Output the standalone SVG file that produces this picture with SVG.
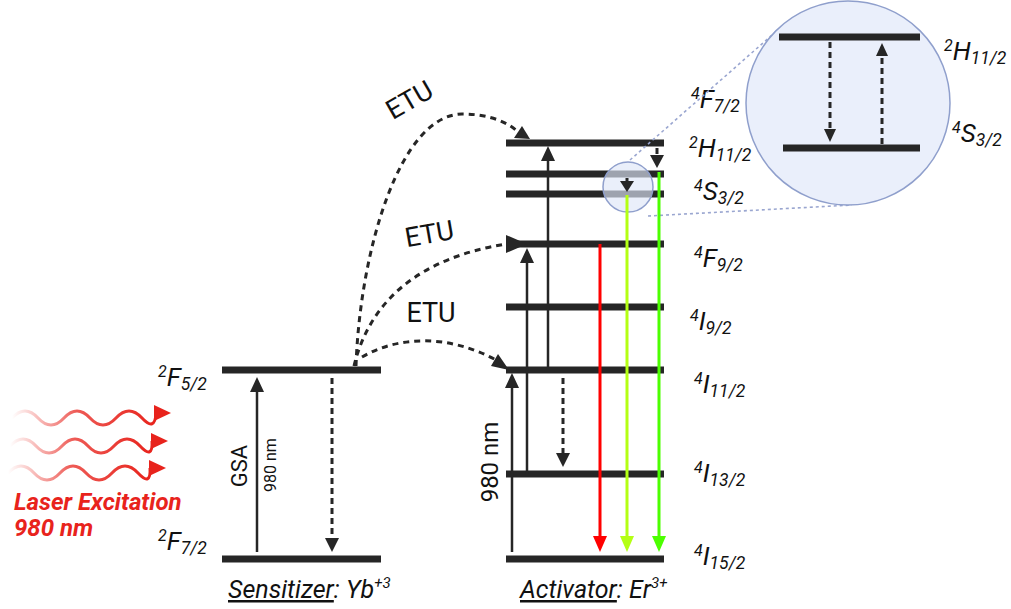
<svg xmlns="http://www.w3.org/2000/svg" width="1011" height="609" viewBox="0 0 1011 609">
  <defs>
    <style>
      .lvl { stroke: #262626; stroke-width: 7; }
      .solid { stroke: #262626; stroke-width: 2.5; fill: none; }
      .dash { stroke: #262626; stroke-width: 3; fill: none; stroke-dasharray: 6 4; }
      .etu { stroke: #262626; stroke-width: 3; fill: none; stroke-dasharray: 6 5; }
      .head { fill: #262626; }
      .lbl { font-family: Roboto, "Liberation Sans", sans-serif; font-style: italic; font-size: 26px; fill: #111; }
      .sub { font-size: 17.5px; }
      .sup { font-size: 16px; }
      .caption { font-family: Roboto, "Liberation Sans", sans-serif; font-style: italic; font-size: 25px; fill: #111; }
      .etuTxt { font-family: Roboto, "Liberation Sans", sans-serif; font-size: 27px; fill: #111; }
      .laserTxt { font-family: Roboto, "Liberation Sans", sans-serif; font-weight: bold; font-style: italic; font-size: 24px; fill: #e8231c; }
      .zoomLink { stroke: #9aa6d0; stroke-width: 1.6; stroke-dasharray: 3 3; fill: none; }
    </style>
    <linearGradient id="beam" x1="0" y1="0" x2="1" y2="0">
      <stop offset="0" stop-color="#e8231c" stop-opacity="0"/>
      <stop offset="0.45" stop-color="#e8231c" stop-opacity="0.75"/>
      <stop offset="1" stop-color="#e8231c"/>
    </linearGradient>
  </defs>

  <rect width="1011" height="609" fill="#ffffff"/>

  <!-- Laser excitation waves -->
  <g id="laser">
    <path d="M12,418 q13,-14 26,0 t26,0 t26,0 t26,0 t26,0 t14,-5" stroke="url(#beam)" stroke-width="3" fill="none"/>
    <polygon points="171,413 154,405 154,421" fill="#e8231c"/>
    <path d="M10,446 q13,-14 26,0 t26,0 t26,0 t26,0 t26,0 t12,-5" stroke="url(#beam)" stroke-width="3" fill="none"/>
    <polygon points="168,441 151,433 151,449" fill="#e8231c"/>
    <path d="M8,473 q13,-14 26,0 t26,0 t26,0 t26,0 t26,0 t12,-5" stroke="url(#beam)" stroke-width="3" fill="none"/>
    <polygon points="166,468 149,460 149,476" fill="#e8231c"/>
    <text class="laserTxt" x="14" y="510">Laser Excitation</text>
    <text class="laserTxt" x="14" y="536">980 nm</text>
  </g>

  <!-- Sensitizer (Yb) levels -->
  <g id="sensitizer">
    <line class="lvl" x1="222" y1="370" x2="381" y2="370"/>
    <line class="lvl" x1="222" y1="559" x2="381" y2="559"/>
    <text class="lbl" x="158" y="386"><tspan class="sup" dy="-9">2</tspan><tspan dy="9">F</tspan><tspan class="sub" dy="4">5/2</tspan></text>
    <text class="lbl" x="158" y="550"><tspan class="sup" dy="-9">2</tspan><tspan dy="9">F</tspan><tspan class="sub" dy="4">7/2</tspan></text>
    <text x="0" y="0" transform="translate(247,466) rotate(-90)" text-anchor="middle" font-family="Roboto, 'Liberation Sans', sans-serif" font-size="22" fill="#111">GSA</text>
    <text x="0" y="0" transform="translate(276,465) rotate(-90)" text-anchor="middle" font-family="Roboto, 'Liberation Sans', sans-serif" font-size="16" fill="#111">980 nm</text>
    <text class="caption" x="228" y="598"><tspan text-decoration="underline">Sensitizer</tspan>: Yb<tspan font-size="15" dy="-10">+3</tspan></text>
  </g>

  <!-- Activator (Er) levels -->
  <g id="activator">
    <line class="lvl" x1="506" y1="143" x2="664" y2="143"/>
    <line class="lvl" x1="506" y1="174" x2="664" y2="174"/>
    <line class="lvl" x1="506" y1="194" x2="664" y2="194"/>
    <line class="lvl" x1="506" y1="244" x2="664" y2="244"/>
    <line class="lvl" x1="506" y1="307" x2="664" y2="307"/>
    <line class="lvl" x1="506" y1="370" x2="664" y2="370"/>
    <line class="lvl" x1="506" y1="474" x2="664" y2="474"/>
    <line class="lvl" x1="506" y1="559" x2="664" y2="559"/>
    <text class="lbl" x="691" y="108"><tspan class="sup" dy="-9">4</tspan><tspan dy="9">F</tspan><tspan class="sub" dy="4">7/2</tspan></text>
    <text class="lbl" x="689" y="157"><tspan class="sup" dy="-9">2</tspan><tspan dy="9">H</tspan><tspan class="sub" dy="4">11/2</tspan></text>
    <text class="lbl" x="694" y="200"><tspan class="sup" dy="-9">4</tspan><tspan dy="9">S</tspan><tspan class="sub" dy="4">3/2</tspan></text>
    <text class="lbl" x="694" y="267"><tspan class="sup" dy="-9">4</tspan><tspan dy="9">F</tspan><tspan class="sub" dy="4">9/2</tspan></text>
    <text class="lbl" x="690" y="330"><tspan class="sup" dy="-9">4</tspan><tspan dy="9">I</tspan><tspan class="sub" dy="4">9/2</tspan></text>
    <text class="lbl" x="694" y="393"><tspan class="sup" dy="-9">4</tspan><tspan dy="9">I</tspan><tspan class="sub" dy="4">11/2</tspan></text>
    <text class="lbl" x="694" y="482"><tspan class="sup" dy="-9">4</tspan><tspan dy="9">I</tspan><tspan class="sub" dy="4">13/2</tspan></text>
    <text class="lbl" x="694" y="565"><tspan class="sup" dy="-9">4</tspan><tspan dy="9">I</tspan><tspan class="sub" dy="4">15/2</tspan></text>
    <text x="0" y="0" transform="translate(498,462) rotate(-90)" text-anchor="middle" font-family="Roboto, 'Liberation Sans', sans-serif" font-size="24" fill="#111">980 nm</text>
    <text class="caption" x="520" y="598"><tspan text-decoration="underline">Activator</tspan>: Er<tspan font-size="15" dy="-10">3+</tspan></text>
  </g>

  <!-- Magnified view of the 2H11/2 / 4S3/2 pair -->
  <g id="magnifier">
    <line class="zoomLink" x1="630" y1="160" x2="780" y2="28"/>
    <line class="zoomLink" x1="648" y1="216" x2="852" y2="205"/>
    <circle cx="628" cy="187" r="25" fill="#dfe6f7" fill-opacity="0.65" stroke="#8f9fcc" stroke-width="1.5"/>
    <circle cx="848" cy="103" r="102" fill="#eaeffb" stroke="#8f9fcc" stroke-width="1.5"/>
    <line class="lvl" x1="779" y1="37" x2="920" y2="37"/>
    <line class="lvl" x1="783" y1="148" x2="920" y2="148"/>
    <line class="dash" x1="830" y1="42" x2="830" y2="130"/>
    <polygon class="head" points="830,142 824,129 836,129"/>
    <line class="dash" x1="882" y1="144" x2="882" y2="55"/>
    <polygon class="head" points="882,43 876,56 888,56"/>
    <text class="lbl" x="944" y="60"><tspan class="sup" dy="-9">2</tspan><tspan dy="9">H</tspan><tspan class="sub" dy="4">11/2</tspan></text>
    <text class="lbl" x="952" y="142"><tspan class="sup" dy="-9">4</tspan><tspan dy="9">S</tspan><tspan class="sub" dy="4">3/2</tspan></text>
  </g>

  <!-- Transitions -->
  <g id="connectors">
    <!-- sensitizer absorption and relaxation -->
    <line class="solid" x1="257" y1="552" x2="257" y2="390"/>
    <polygon class="head" points="257,377 250,392 264,392"/>
    <line class="dash" x1="332" y1="378" x2="332" y2="540"/>
    <polygon class="head" points="332,552 325,538 339,538"/>

    <!-- energy transfer upconversion -->
    <path class="etu" d="M356,366 C360,250 400,115 462,114 C492,114 510,124 518,132"/>
    <polygon class="head" points="530,139 514,138 522,126"/>
    <path class="etu" d="M354,366 C370,300 420,258 506,244"/>
    <polygon class="head" points="527,244 506,235 506,253"/>
    <path class="etu" d="M362,357 C400,335 450,335 496,360"/>
    <polygon class="head" points="509,370 491,366 498,354"/>

    <!-- excitation steps in the activator -->
    <line class="solid" x1="512" y1="552" x2="512" y2="386"/>
    <polygon class="head" points="512,373 505,388 519,388"/>
    <line class="solid" x1="527" y1="474" x2="527" y2="262"/>
    <polygon class="head" points="527,248 520,263 534,263"/>
    <line class="solid" x1="548" y1="370" x2="548" y2="160"/>
    <polygon class="head" points="548,146 541,161 555,161"/>

    <!-- non-radiative relaxation -->
    <line class="dash" x1="563" y1="378" x2="563" y2="455"/>
    <polygon class="head" points="563,467 556,453 570,453"/>
    <line class="dash" x1="657" y1="148" x2="657" y2="156"/>
    <polygon class="head" points="657,168 650,155 664,155"/>
    <line class="dash" x1="627" y1="178" x2="627" y2="182"/>
    <polygon class="head" points="627,192 620,181 634,181"/>

    <!-- emissions -->
    <line x1="600" y1="244" x2="600" y2="538" stroke="#ff0000" stroke-width="3"/>
    <polygon points="600,552 593,536 607,536" fill="#ff0000"/>
    <line x1="627" y1="195" x2="627" y2="538" stroke="#b4ff14" stroke-width="3"/>
    <polygon points="627,552 620,536 634,536" fill="#b4ff14"/>
    <line x1="659" y1="172" x2="659" y2="538" stroke="#4cff00" stroke-width="3"/>
    <polygon points="659,552 652,536 666,536" fill="#4cff00"/>
  </g>

  <!-- ETU labels -->
  <g id="etu-labels">
    <text class="etuTxt" text-anchor="middle" transform="translate(414,108) rotate(-30)">ETU</text>
    <text class="etuTxt" text-anchor="middle" transform="translate(431,243) rotate(-10)">ETU</text>
    <text class="etuTxt" text-anchor="middle" x="431" y="322">ETU</text>
  </g>
</svg>
